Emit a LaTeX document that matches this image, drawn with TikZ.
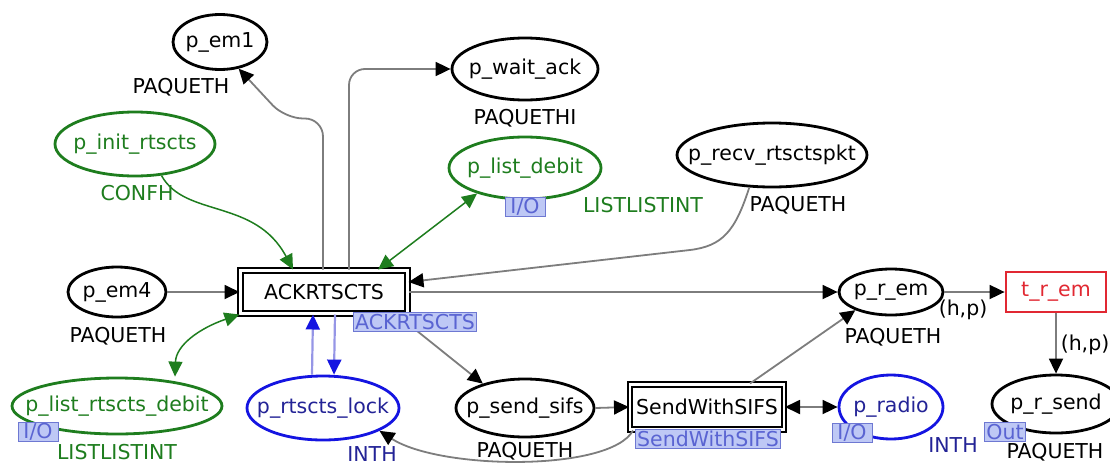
\documentclass[tikz,border=0pt]{standalone}
\usepackage{fontspec}
\setmainfont{DejaVu Sans}
\usetikzlibrary{shapes.geometric,arrows.meta}
\definecolor{pgreen}{RGB}{30,125,30}
\definecolor{pblue}{RGB}{20,20,225}
\definecolor{pdblue}{RGB}{35,35,150}
\definecolor{lav}{RGB}{150,150,230}
\definecolor{tred}{RGB}{225,40,50}
\definecolor{arcgray}{RGB}{125,125,125}
\definecolor{tagfill}{RGB}{190,200,245}
\definecolor{tagdraw}{RGB}{110,120,210}
\definecolor{tagtext}{RGB}{90,100,210}
\tikzset{tk/.tip={Triangle[length=15pt,width=14pt,color=black]},
  tg/.tip={Triangle[length=15pt,width=14pt,color=pgreen]},
  tb/.tip={Triangle[length=15pt,width=14pt,color=pblue]}}
\newcommand{\zw}[1]{\makebox[0pt]{#1}}
\begin{document}
\begin{tikzpicture}[x=1pt,y=-1pt,every node/.style={font=\fontsize{20.5}{24}\selectfont,inner sep=1pt},
  place/.style={ellipse,draw,line width=2.8pt,inner sep=0pt},
  gplace/.style={place,draw=pgreen,text=pgreen},
  bplace/.style={place,draw=pblue,text=pdblue},
  subst/.style={rectangle,draw,line width=2pt,double,double distance=2.5pt,minimum height=43pt},
  trans/.style={rectangle,draw=tred,text=tred,line width=2.8pt},
  tag/.style={draw=tagdraw,fill=tagfill,text=tagtext,line width=1pt,inner xsep=2pt,inner ysep=0pt,minimum height=19pt,minimum width=40pt},
  arc/.style={draw=arcgray,line width=1.8pt,-{tk}},
  biarc/.style={draw=arcgray,line width=1.8pt,{tk}-{tk}},
  garc/.style={draw=pgreen,line width=1.5pt,-{tg}},
  gbiarc/.style={draw=pgreen,line width=1.5pt,{tg}-{tg}},
  barc/.style={draw=lav,line width=2.2pt,-{tb}}]
\useasboundingbox (0,0) rectangle (1110,466);
\node[place,minimum width=94pt,minimum height=55pt] (pem1) at (220,42) {\zw{p\_em1}};
\node[place,minimum width=146pt,minimum height=62pt] (pwait) at (525,69) {\zw{p\_wait\_ack}};
\node[gplace,minimum width=160pt,minimum height=64pt] (pinit) at (135,144) {\zw{p\_init\_rtscts}};
\node[gplace,minimum width=152pt,minimum height=62pt] (plistdebit) at (525,168) {\zw{p\_list\_debit}};
\node[place,minimum width=190pt,minimum height=64pt] (precv) at (772,155) {\zw{p\_recv\_rtsctspkt}};
\node[place,minimum width=98pt,minimum height=50pt] (pem4) at (117,292) {\zw{p\_em4}};
\node[subst,minimum width=167pt] (ack) at (324,292) {ACKRTSCTS};
\node[place,minimum width=104pt,minimum height=46pt] (prem) at (891,292) {\zw{p\_r\_em}};
\node[trans,minimum width=100pt,minimum height=40pt] (trem) at (1056,292) {t\_r\_em};
\node[place,minimum width=128pt,minimum height=58pt] (psend) at (1056,404) {\zw{p\_r\_send}};
\node[bplace,minimum width=104pt,minimum height=64pt] (pradio) at (891,407) {\zw{p\_radio}};
\node[subst,minimum width=154pt,minimum height=45pt] (sws) at (707,407) {SendWithSIFS};
\node[place,minimum width=138pt,minimum height=58pt] (psifs) at (525,408) {\zw{p\_send\_sifs}};
\node[bplace,minimum width=152pt,minimum height=64pt] (plock) at (323,408) {\zw{p\_rtscts\_lock}};
\node[gplace,minimum width=210pt,minimum height=56pt] (plistrts) at (117,406) {\zw{p\_list\_rtscts\_debit}};
\node (lem1) at (181,87) {PAQUETH};
\node (lwait) at (525,118) {PAQUETHI};
\node[text=pgreen] (linit) at (137,193) {CONFH};
\node[text=pgreen] (llistdebit) at (643,205) {LISTLISTINT};
\node (lrecv) at (798,205) {PAQUETH};
\node (lem4) at (118,336) {PAQUETH};
\node (lrem) at (893,337) {PAQUETH};
\node (lsend) at (1055,452) {PAQUETH};
\node[text=pdblue] (lradio) at (953,445) {INTH};
\node (lsifs) at (525,451) {PAQUETH};
\node[text=pdblue] (llock) at (372,454) {INTH};
\node[text=pgreen] (llistrts) at (117,452) {LISTLISTINT};
\node (hp1) at (963,310) {(h,p)};
\node (hp2) at (1085,345) {(h,p)};
\foreach \a/\b in {pem4.east/ack.west,ack.east/prem.west,psifs.east/sws.west,prem.east/trem.west,trem.south/psend.north}
  \draw[arc] (\a)--(\b);
\draw[arc,rounded corners=18pt] ([xshift=-1pt]ack.north) -- ++(0,-151) -- ++(-38,0) -- (pem1.-55);
\draw[arc,rounded corners=16pt] ([xshift=25pt]ack.north) |- (pwait.west);
\draw[garc] (pinit.-50) .. controls (185,218) and (255,198) .. ([xshift=-31pt]ack.north);
\draw[gbiarc] ([xshift=54pt]ack.north) -- (plistdebit.-152);
\draw[gbiarc] ([xshift=58pt]plistrts.north) .. controls (176,345) and (200,328) .. (ack.south west);
\draw[arc] (precv.-125) .. controls (735,232) and (722,246) .. (690,250) -- ([yshift=10pt]ack.east);
\draw[arc] ([xshift=-12pt]ack.south east) -- (psifs.150);
\draw[barc] ([xshift=-11pt]plock.north) -- ([xshift=-11pt]ack.south);
\draw[barc] ([xshift=11pt]ack.south) -- ([xshift=11pt]plock.north);
\draw[arc] ([xshift=43pt]sws.north) -- (prem.-153);
\draw[biarc] (sws.east) -- (pradio.west);
\draw[arc] ([xshift=4pt]sws.south west) .. controls (610,472) and (440,470) .. (plock.-22);
\node[tag] (tack) at (415,322) {ACKRTSCTS};
\node[tag] (tio1) at (525,207) {I/O};
\node[tag] (tio2) at (38,432) {I/O};
\node[tag] (tsws) at (708,439) {SendWithSIFS};
\node[tag] (tio3) at (852,433) {I/O};
\node[tag] (tout) at (1005,432) {Out};
\end{tikzpicture}
\end{document}
